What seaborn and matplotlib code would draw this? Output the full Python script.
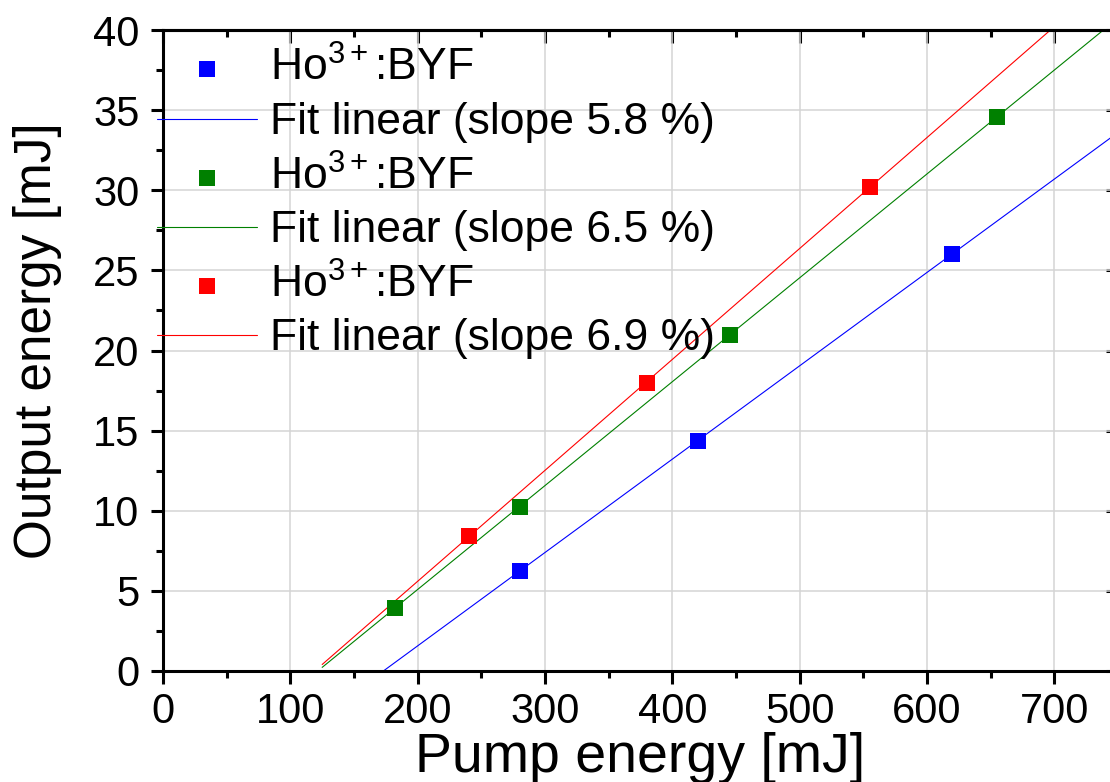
import numpy as np
import pandas as pd
import matplotlib
matplotlib.use("Agg")
import matplotlib.pyplot as plt
from matplotlib.ticker import MultipleLocator
import seaborn as sns

# ---- data ----
pump_blue = [280, 420, 620]
out_blue = [6.25, 14.35, 26.05]
pump_green = [182, 280, 445, 655]
out_green = [3.95, 10.25, 20.95, 34.6]
pump_red = [240, 380, 555]
out_red = [8.4, 18.0, 30.2]
fit_range = [125, 750]
point_label = "Ho$^{3+}$:BYF"
fit_labels = ["Fit linear (slope 5.8 %)", "Fit linear (slope 6.5 %)", "Fit linear (slope 6.9 %)"]
colors = ["#0000ff", "#008000", "#ff0000"]
x_label = "Pump energy [mJ]"
y_label = "Output energy [mJ]"

sns.set_style("ticks")
plt.rcParams["font.family"] = ["Liberation Sans", "DejaVu Sans"]
plt.rcParams["mathtext.fontset"] = "custom"
plt.rcParams["mathtext.rm"] = "Liberation Sans"
plt.rcParams["mathtext.it"] = "Liberation Sans:italic"
plt.rcParams["mathtext.bf"] = "Liberation Sans:bold"
plt.rcParams["mathtext.default"] = "regular"
for key in ["text.color", "axes.labelcolor", "xtick.color", "ytick.color", "axes.edgecolor"]:
    plt.rcParams[key] = "black"

fig = plt.figure(figsize=(11.1, 7.82), dpi=100)
W, H = 1110, 782
ax_l, ax_r, ax_t, ax_b = 163, 1118, 30, 671
ax = fig.add_axes([ax_l / W, (H - ax_b) / H, (ax_r - ax_l) / W, (ax_b - ax_t) / H])

series = [(pump_blue, out_blue), (pump_green, out_green), (pump_red, out_red)]
fx = np.array(fit_range, dtype=float)
for (px, py), col, flab in zip(series, colors, fit_labels):
    df = pd.DataFrame({"x": px, "y": py})
    sns.scatterplot(data=df, x="x", y="y", marker="s", s=125, color=col,
                    linewidth=0, ax=ax, zorder=3, label=point_label, legend=False)
    k, b = np.polyfit(px, py, 1)
    fdf = pd.DataFrame({"x": fx, "y": k * fx + b})
    sns.lineplot(data=fdf, x="x", y="y", color=col, linewidth=0.8, ax=ax,
                 label=flab, legend=False, zorder=2)

ax.set_xlim(0, 750)
ax.set_ylim(0, 40)
ax.xaxis.set_major_locator(MultipleLocator(100))
ax.xaxis.set_minor_locator(MultipleLocator(50))
ax.yaxis.set_major_locator(MultipleLocator(5))
ax.yaxis.set_minor_locator(MultipleLocator(2.5))
ax.grid(True, which="major", color="#d4d4d4", linewidth=1.1)
ax.set_axisbelow(True)

for sp in ax.spines.values():
    sp.set_linewidth(2.2)
    sp.set_visible(True)
    sp.set_color("black")

ax.tick_params(axis="both", which="major", direction="out", length=9, width=2.2,
               labelsize=30, pad=6, color="black", labelcolor="black", top=False, right=False)
ax.tick_params(axis="y", which="major", pad=8)
ax.tick_params(axis="both", which="minor", direction="out", length=5, width=2.2,
               color="black", top=False, right=False)

# top / right ticks pointing inward
axt = ax.secondary_xaxis("top")
axt.xaxis.set_major_locator(MultipleLocator(100))
axt.xaxis.set_minor_locator(MultipleLocator(50))
axt.tick_params(axis="x", which="major", direction="in", length=9, width=2.2, labeltop=False)
axt.tick_params(axis="x", which="minor", direction="in", length=5, width=2.2, labeltop=False)
axt.spines["top"].set_linewidth(2.2)
axr = ax.secondary_yaxis("right")
axr.yaxis.set_major_locator(MultipleLocator(5))
axr.yaxis.set_minor_locator(MultipleLocator(2.5))
axr.tick_params(axis="y", which="major", direction="in", length=9, width=2.2, labelright=False)
axr.tick_params(axis="y", which="minor", direction="in", length=5, width=2.2, labelright=False)
axr.spines["right"].set_linewidth(2.2)

ax.set_xlabel(x_label, fontsize=40, labelpad=0)
ax.set_ylabel(y_label, fontsize=37, labelpad=22)
ax.yaxis.label.set_y(0.515)

h, l = ax.get_legend_handles_labels()
leg = ax.legend(h, l, loc="upper left", bbox_to_anchor=(157 / W, 1 - 47 / H),
                bbox_transform=fig.transFigure, frameon=False, fontsize=32,
                borderaxespad=0, borderpad=0, handlelength=2.25, handletextpad=0.3,
                labelspacing=0.27, scatterpoints=1)

fig.savefig("out.png", dpi=100)
